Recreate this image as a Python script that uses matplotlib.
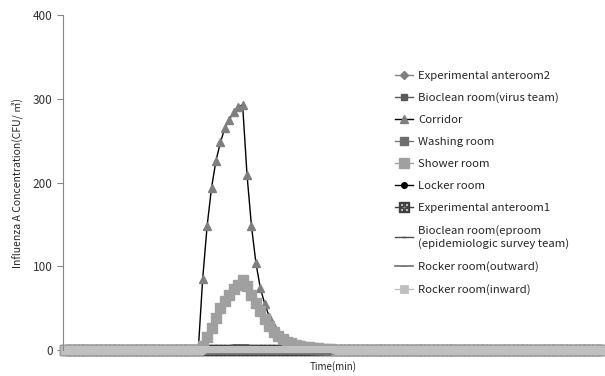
import matplotlib
matplotlib.use("Agg")
import matplotlib.pyplot as plt
import numpy as np

plt.rcParams["font.family"] = ["Noto Sans CJK KR", "DejaVu Sans"]

# number of time steps on the (unlabelled) category axis
n_points = 122

# corridor: triangles, starts at step 30
corridor_start = 30
corridor_vals = [0, 85, 148, 194, 226, 248, 265, 275, 284, 290, 293, 209, 148,
                 104, 74, 55, 40, 28, 20, 14, 10, 7, 5, 3, 2, 1, 0]

# shower room: light gray squares, starts at step 30
shower_start = 30
shower_vals = [0, 5, 15, 26, 38, 50, 58, 66, 73, 78, 83, 76, 66, 56, 46, 37,
               29, 22, 17, 13, 10, 8, 6, 5, 4, 3, 2, 2, 1, 1, 1, 0]

# bioclean room (eproom): small bump just above the baseline
eproom_start = 34
eproom_vals = [0, 2, 4, 5, 6, 6, 6, 6, 5, 5, 4, 3, 2, 1, 0]

# rocker room (outward): thin line just under the baseline
outward_start = 32
outward_vals = [-5] * 29

labels = [
    "Experimental anteroom2",
    "Bioclean room(virus team)",
    "Corridor",
    "Washing room",
    "Shower room",
    "Locker room",
    "Experimental anteroom1",
    "Bioclean room(eproom\n(epidemiologic survey team)",
    "Rocker room(outward)",
    "Rocker room(inward)",
]


def series(start, vals):
    y = np.zeros(n_points)
    y[start:start + len(vals)] = vals
    return y


x = np.arange(n_points)
zeros = np.zeros(n_points)
corridor = series(corridor_start, corridor_vals)
shower = series(shower_start, shower_vals)
eproom = series(eproom_start, eproom_vals)
outward = np.full(n_points, np.nan)
outward[outward_start:outward_start + len(outward_vals)] = outward_vals

fig = plt.figure(figsize=(6.05, 3.76), dpi=100)
ax = fig.add_axes([63 / 605, 26 / 376, 541 / 605, 335 / 376])

h = {}
h[0], = ax.plot(x, zeros, color="#808080", lw=1, marker="D", ms=4,
                mfc="#808080", mec="#808080", clip_on=False)
h[1], = ax.plot(x, zeros, color="#595959", lw=1, marker="s", ms=5,
                mfc="#595959", mec="#595959", clip_on=False)
h[3], = ax.plot(x, zeros, color="#7a7a7a", lw=1, marker="s", ms=6,
                mfc="#6e6e6e", mec="#6e6e6e", clip_on=False)
h[5], = ax.plot(x, zeros, color="black", lw=1, marker="o", ms=4,
                mfc="black", mec="black", clip_on=False)
h[6], = ax.plot(x, zeros, color="#404040", lw=1, marker=r"$\boxplus$", ms=7,
                mfc="#808080", mec="#404040", clip_on=False)
h[7], = ax.plot(x, eproom, color="#4d4d4d", lw=1, marker="_", ms=3,
                clip_on=False)
h[2], = ax.plot(x, corridor, color="black", lw=1, marker="^", ms=6,
                mfc="#7f7f7f", mec="#7f7f7f", clip_on=False)
h[4], = ax.plot(x, shower, color="#a0a0a0", lw=1, marker="s", ms=6.5,
                mfc="#a0a0a0", mec="#a0a0a0", clip_on=False)
h[9], = ax.plot(x, zeros, color="#bfbfbf", lw=1, marker="s", ms=6,
                mfc="#c0c0c0", mec="#c0c0c0", mew=0.6, clip_on=False)
h[8], = ax.plot(x, outward, color="#6e6e6e", lw=1.2, marker="_", ms=5,
                mew=0.5, clip_on=False)

ax.set_xlim(-0.5, n_points - 0.5)
ax.set_ylim(0, 400)
ax.set_yticks([0, 100, 200, 300, 400])
ax.set_xticks([])
for side in ["top", "right", "bottom"]:
    ax.spines[side].set_visible(False)
ax.spines["left"].set_color("#868686")
ax.tick_params(axis="y", colors="#868686", length=4, labelcolor="#333333",
               labelsize=8.5)
ax.set_ylabel("Influenza A Concentration(CFU/ \u33a5)", fontsize=7.5,
              color="#262626", labelpad=7)
ax.set_xlabel("Time(min)", fontsize=7, color="#262626", labelpad=8)

leg = fig.legend([h[i] for i in range(10)], labels, loc="upper left",
                 bbox_to_anchor=(390 / 605, 1 - 66 / 376), frameon=False,
                 fontsize=8.2, handlelength=1.6, handletextpad=0.5,
                 labelspacing=1.05, borderaxespad=0)
for t in leg.get_texts():
    t.set_color("#262626")

fig.savefig("out.png", dpi=100)
